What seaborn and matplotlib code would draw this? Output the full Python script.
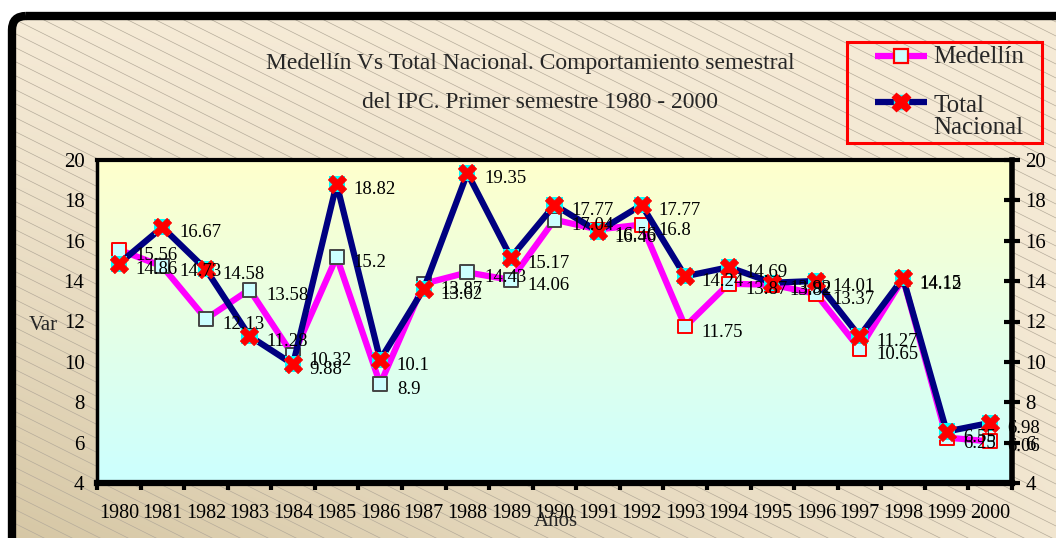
import numpy as np
import pandas as pd
import matplotlib
matplotlib.use("Agg")
import matplotlib.pyplot as plt
import seaborn as sns
from matplotlib.patches import FancyBboxPatch, Rectangle
from matplotlib.ticker import FixedLocator

# data
years = [str(y) for y in range(1980, 2001)]
medellin = [15.56, 14.73, 12.13, 13.58, 10.32, 15.2, 8.9, 13.87, 14.43, 14.06, 17.04,
            16.56, 16.8, 11.75, 13.87, 13.82, 13.37, 10.65, 14.12, 6.25, 6.06]
total_nacional = [14.86, 16.67, 14.58, 11.28, 9.88, 18.82, 10.1, 13.62, 19.35, 15.17, 17.77,
                  16.46, 17.77, 14.24, 14.69, 13.92, 14.01, 11.27, 14.15, 6.55, 6.98]
y_ticks = [4, 6, 8, 10, 12, 14, 16, 18, 20]

# marker edge colours of the Medellín squares (red on some points in the original)
med_edges = ['red'] + ['#444444'] * 10 + ['red'] * 10

df = pd.DataFrame({'Año': years, 'Medellín': medellin, 'Total Nacional': total_nacional})

sns.set_theme(style='white')
plt.rcParams['font.family'] = ['Liberation Serif', 'DejaVu Serif']

W, H = 1056, 538
fig = plt.figure(figsize=(W / 100, H / 100), dpi=100, facecolor='white')

# ---- outer background: beige gradient with diagonal lines inside a rounded black frame
bg = fig.add_axes([0, 0, 1, 1], zorder=-10)
bg.set_xlim(0, W)
bg.set_ylim(H, 0)
bg.axis('off')
frame = FancyBboxPatch((12, 16), W + 40, H + 40, boxstyle='round,pad=0,rounding_size=14',
                       facecolor='none', edgecolor='black', lw=6, zorder=3)
bg.add_patch(frame)
ty, tx = np.mgrid[0:1:200j, 0:1:300j]
top = np.array([246, 235, 215]) / 255
dark = np.array([214, 199, 165]) / 255
amt = (ty ** 1.3) * (1 - 0.85 * tx)
grad = top[None, None, :] + (dark - top)[None, None, :] * amt[..., None]
im = bg.imshow(grad, extent=(0, W, H, 0), aspect='auto', zorder=0)
im.set_clip_path(frame)
for x0 in np.arange(-1200, W + 40, 28):
    ln, = bg.plot([x0, x0 + 1200], [0, 600], color='#b5ab9a', lw=0.5, zorder=1)
    ln.set_clip_path(frame)

# ---- main plot
ax = fig.add_axes([97 / W, 1 - 483 / H, (1012 - 97) / W, (483 - 160) / H])
ax.set_facecolor('none')

sns.lineplot(data=df, x='Año', y='Medellín', color='#FF00FF', lw=4.5, sort=False, ax=ax, zorder=3)
sns.scatterplot(data=df, x='Año', y='Medellín', marker='s', s=100, color='#CCFFFF',
                edgecolor=med_edges, linewidth=1.4, ax=ax, zorder=4)
sns.lineplot(data=df, x='Año', y='Total Nacional', color='#000080', lw=4.5, sort=False, ax=ax, zorder=5)
sns.scatterplot(data=df, x='Año', y='Total Nacional', marker='s', s=135, color='#00FFFF',
                edgecolor='none', ax=ax, zorder=6)
sns.scatterplot(data=df, x='Año', y='Total Nacional', marker='X', s=175, color='#FF0000',
                edgecolor='#FF0000', linewidth=0.5, ax=ax, zorder=7)

for i, v in enumerate(medellin):
    ax.annotate(f"{v:g}", (i, v), xytext=(12, -4), textcoords='offset points',
                ha='left', va='center', fontsize=13.5, color='black', zorder=8)
for i, v in enumerate(total_nacional):
    ax.annotate(f"{v:g}", (i, v), xytext=(12, -4), textcoords='offset points',
                ha='left', va='center', fontsize=13.5, color='black', zorder=8)

# gradient fill of the plot area
pg = np.linspace(0, 1, 100)[:, None]
c_top = np.array([255, 255, 204]) / 255
c_bot = np.array([204, 255, 255]) / 255
pgrad = c_top[None, None, :] * (1 - pg[..., None]) + c_bot[None, None, :] * pg[..., None]
ax.imshow(pgrad, extent=(-0.5, 20.5, 4, 20), aspect='auto', zorder=0)

ax.set_xlim(-0.5, 20.5)
ax.set_ylim(4, 20)
ax.set_yticks(y_ticks)
ax.set_xticks(range(len(years)))
ax.set_xticklabels(years)
ax.xaxis.set_minor_locator(FixedLocator(np.arange(-0.5, 21, 1)))
ax.tick_params(axis='x', which='major', length=0, pad=15, labelsize=14.5)
ax.tick_params(axis='x', which='minor', direction='out', length=5, width=3, color='black', bottom=True)
ax.tick_params(axis='y', length=0, pad=9, labelsize=15, labelcolor='black')
ax.tick_params(axis='x', labelcolor='black')
ax.set_xlabel('')
ax.set_ylabel('')
for side, lw in [('top', 3), ('bottom', 4.5), ('left', 2.5)]:
    ax.spines[side].set_visible(True)
    ax.spines[side].set_color('black')
    ax.spines[side].set_linewidth(lw)
ax.spines['right'].set_visible(False)

ax2 = ax.twinx()
ax2.set_ylim(4, 20)
ax2.set_yticks(y_ticks)
ax2.tick_params(axis='y', direction='inout', length=11, width=3, color='black', pad=4,
                labelsize=15, labelcolor='black', right=True)
for side in ['top', 'bottom', 'left']:
    ax2.spines[side].set_visible(False)
ax2.spines['right'].set_visible(True)
ax2.spines['right'].set_color('black')
ax2.spines['right'].set_linewidth(4)
ax2.grid(False)
ax.grid(False)

# axis titles and chart title
fig.text(43 / W, 1 - 326 / H, 'Var', fontsize=15, ha='center', va='center')
fig.text(556 / W, 1 - 522 / H, 'Años', fontsize=15, ha='center', va='center')
fig.text(530 / W, 1 - 63 / H, 'Medellín Vs Total Nacional. Comportamiento semestral',
         fontsize=17, ha='center', va='center')
fig.text(540 / W, 1 - 103 / H, 'del IPC. Primer semestre 1980 - 2000',
         fontsize=17, ha='center', va='center')

# legend box drawn in pixel coordinates of the background layer
leg = fig.add_axes([0, 0, 1, 1], zorder=5)
leg.set_xlim(0, W)
leg.set_ylim(H, 0)
leg.axis('off')
leg.add_patch(Rectangle((847, 42), 195, 101, facecolor='none', edgecolor='red', lw=2.2))
leg.plot([875, 927], [56, 56], color='#FF00FF', lw=4.5, solid_capstyle='butt')
leg.plot([901], [56], marker='s', ms=9.5, mfc='#CCFFFF', mec='red', mew=1.6, ls='none')
leg.plot([875, 927], [102, 102], color='#000080', lw=4.5, solid_capstyle='butt')
leg.plot([901], [102], marker='s', ms=10.5, mfc='#00FFFF', mec='#00FFFF', ls='none')
leg.plot([901], [102], marker='X', ms=13, mfc='red', mec='red', ls='none')
leg.text(933, 57, 'Medellín', fontsize=18, ha='left', va='center')
leg.text(933, 117, 'Total\nNacional', fontsize=18, ha='left', va='center', linespacing=1.0)

fig.savefig('out.png', dpi=100)
